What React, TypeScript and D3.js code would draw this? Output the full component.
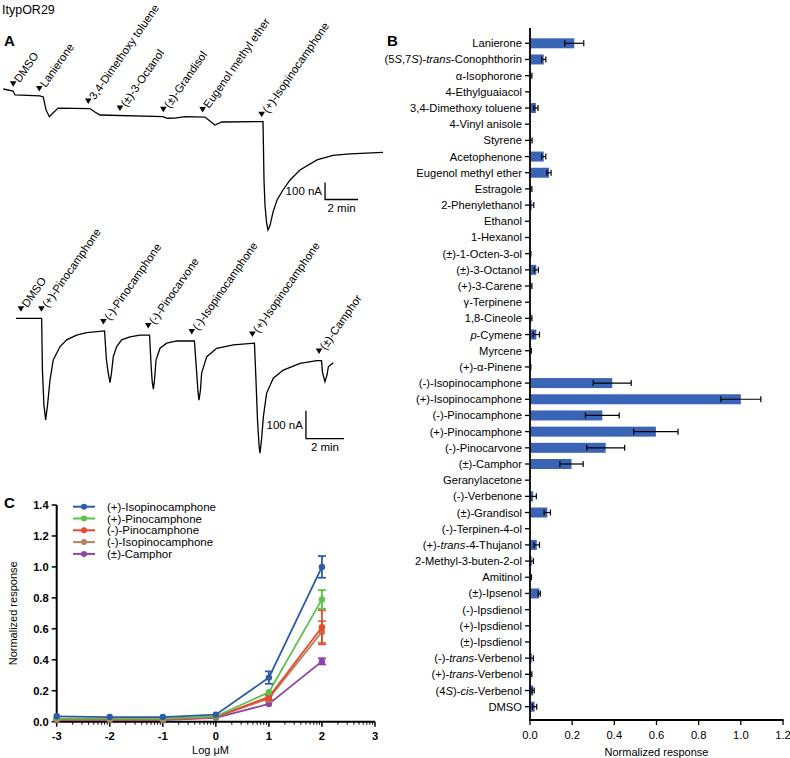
import React from "react";
import * as d3 from "d3";

// ---------- Panel A: TEVC traces (time in min, current in nA) ----------
const topTrace: [number, number][] = [
  [0, 0], [0.59, -12], [0.71, -35], [2.22, -41], [2.42, -47], [2.59, -123], [2.79, -163],
  [3.01, -141], [3.32, -112], [5.25, -115], [5.55, -135], [5.86, -153], [9.68, -162],
  [9.92, -172], [10.4, -171], [11.01, -163], [12.22, -165], [12.52, -188], [12.82, -212],
  [13.25, -194], [15.74, -192], [15.8, -535], [15.86, -682], [15.95, -782], [16.04, -829],
  [16.16, -805], [16.35, -723], [16.59, -653], [16.95, -594], [17.38, -535], [17.98, -476],
  [19.01, -417], [19.98, -391], [21.01, -382], [23.01, -373],
];
const topStimuli = ["DMSO", "Lanierone", "3,4-Dimethoxy toluene", "(\u00b1)-3-Octanol", "(\u00b1)-Grandisol", "Eugenol methyl ether", "(+)-Isopinocamphone"];
const topStimTimes = [0.6, 2.18, 5.15, 7.07, 9.7, 12.08, 15.66];

const bottomTrace: [number, number][] = [
  [0, 0], [1.35, 0], [1.39, -185], [1.47, -310], [1.56, -363], [1.66, -310], [1.79, -220],
  [1.96, -149], [2.32, -101], [2.67, -77], [3.19, -60], [3.72, -51], [4.66, -45],
  [4.76, -149], [4.87, -202], [4.95, -230], [5.03, -192], [5.12, -137], [5.3, -101],
  [5.56, -77], [6.0, -66], [6.53, -60], [7.03, -60], [7.11, -167], [7.17, -227], [7.23, -253],
  [7.29, -220], [7.37, -149], [7.58, -107], [7.93, -89], [8.46, -81], [9.39, -81],
  [9.5, -185], [9.58, -263], [9.63, -292], [9.71, -256], [9.77, -196], [10.04, -137],
  [10.56, -107], [11.44, -95], [12.55, -89], [12.63, -220], [12.71, -363], [12.79, -452],
  [12.84, -482], [12.92, -435], [13.02, -351], [13.19, -268], [13.54, -214], [14.07, -185],
  [14.95, -161], [15.83, -151], [16.08, -151], [16.13, -192], [16.26, -226], [16.37, -202],
  [16.44, -173], [16.7, -159],
];
const bottomStimuli = ["DMSO", "(+)-Pinocamphone", "(-)-Pinocamphone", "(-)-Pinocarvone", "(-)-Isopinocamphone", "(+)-Isopinocamphone", "(\u00b1)-Camphor"];
const bottomStimTimes = [0.26, 1.34, 4.6, 6.96, 9.25, 12.44, 15.95];

// ---------- Panel B: odorant screen ----------
const odorants = [
  "Lanierone", "(5<i>S</i>,7<i>S</i>)-<i>trans</i>-Conophthorin", "\u03b1-Isophorone", "4-Ethylguaiacol",
  "3,4-Dimethoxy toluene", "4-Vinyl anisole", "Styrene", "Acetophenone", "Eugenol methyl ether",
  "Estragole", "2-Phenylethanol", "Ethanol", "1-Hexanol", "(\u00b1)-1-Octen-3-ol", "(\u00b1)-3-Octanol",
  "(+)-3-Carene", "\u03b3-Terpinene", "1,8-Cineole", "<i>p</i>-Cymene", "Myrcene", "(+)-\u03b1-Pinene",
  "(-)-Isopinocamphone", "(+)-Isopinocamphone", "(-)-Pinocamphone", "(+)-Pinocamphone",
  "(-)-Pinocarvone", "(\u00b1)-Camphor", "Geranylacetone", "(-)-Verbenone", "(\u00b1)-Grandisol",
  "(-)-Terpinen-4-ol", "(+)-<i>trans</i>-4-Thujanol", "2-Methyl-3-buten-2-ol", "Amitinol",
  "(\u00b1)-Ipsenol", "(-)-Ipsdienol", "(+)-Ipsdienol", "(\u00b1)-Ipsdienol",
  "(-)-<i>trans</i>-Verbenol", "(+)-<i>trans</i>-Verbenol", "(4<i>S</i>)-<i>cis</i>-Verbenol", "DMSO",
];
const responses = [
  0.21, 0.065, 0.005, 0, 0.028, 0, 0.003, 0.065, 0.09, 0.003, 0.008, 0, 0, 0.002, 0.03,
  0.005, 0, 0.005, 0.03, 0.003, 0.002, 0.39, 1.0, 0.343, 0.597, 0.359, 0.197, 0, 0.015,
  0.082, 0, 0.032, 0.008, 0.003, 0.044, 0, 0, 0, 0.008, 0.005, 0.015, 0.022,
];
const responseErr = [
  0.045, 0.01, 0.004, 0, 0.01, 0, 0.007, 0.01, 0.01, 0.006, 0.01, 0, 0, 0.002, 0.01,
  0.004, 0, 0.004, 0.015, 0.003, 0.002, 0.09, 0.095, 0.08, 0.105, 0.09, 0.055, 0, 0.015,
  0.015, 0, 0.013, 0.008, 0.004, 0.005, 0, 0, 0, 0.008, 0.004, 0.005, 0.01,
];
const bTicks = [0, 0.2, 0.4, 0.6, 0.8, 1.0, 1.2];

// ---------- Panel C: dose response ----------
const logConc = [-3, -2, -1, 0, 1, 2];
const doseSeries = ["(+)-Isopinocamphone", "(+)-Pinocamphone", "(-)-Pinocamphone", "(-)-Isopinocamphone", "(\u00b1)-Camphor"];
const doseColors = ["#2d5ba8", "#5cc24c", "#e9472e", "#b3855b", "#8d46a6"];
const doseMeans = [
  [0.035, 0.03, 0.03, 0.045, 0.285, 1.0],
  [0.02, 0.02, 0.02, 0.035, 0.19, 0.79],
  [0.015, 0.015, 0.015, 0.03, 0.16, 0.61],
  [0.015, 0.015, 0.015, 0.03, 0.15, 0.58],
  [0.01, 0.01, 0.01, 0.025, 0.115, 0.39],
];
const doseErr = [
  [0.005, 0.004, 0.004, 0.006, 0.04, 0.07],
  [0.004, 0.004, 0.004, 0.005, 0.012, 0.06],
  [0.004, 0.004, 0.004, 0.005, 0.02, 0.11],
  [0.004, 0.004, 0.004, 0.005, 0.02, 0.07],
  [0.003, 0.003, 0.003, 0.004, 0.01, 0.02],
];
const cYTicks = [0, 0.2, 0.4, 0.6, 0.8, 1.0, 1.2, 1.4];
const cXTicks = [-3, -2, -1, 0, 1, 2, 3];

const FONT = "'Liberation Sans', Arial, sans-serif";

function RichLabel({ text, x, y }: { text: string; x: number; y: number }) {
  const parts = text.split(/(<i>.*?<\/i>)/).filter(p => p.length);
  return (
    <text x={x} y={y} textAnchor="end" dominantBaseline="central" fontSize={11.2}>
      {parts.map((p, i) =>
        p.startsWith("<i>")
          ? <tspan key={i} fontStyle="italic">{p.slice(3, -4)}</tspan>
          : <tspan key={i}>{p}</tspan>
      )}
    </text>
  );
}

function Trace({ data, stims, times, xs, ys, arrowGap, bar }: any) {
  const line = d3.line<[number, number]>().x(d => xs(d[0])).y(d => ys(d[1]));
  const bis = d3.bisector((d: [number, number]) => d[0]).left;
  const valueAt = (t: number) => {
    const i = Math.max(1, Math.min(data.length - 1, bis(data, t)));
    const a = data[i - 1], b = data[i];
    return a[1] + (b[1] - a[1]) * ((t - a[0]) / (b[0] - a[0]));
  };
  return (
    <g>
      <path d={line(data) || ""} fill="none" stroke="#000" strokeWidth={1.3} />
      {stims.map((s: string, i: number) => {
        const ax = xs(times[i]);
        const ay = ys(valueAt(times[i])) - arrowGap;
        return (
          <g key={s}>
            <path d={`M${ax - 3.3},${ay - 3} L${ax + 3.3},${ay - 3} L${ax},${ay + 2.5} Z`} fill="#000" />
            <text transform={`translate(${ax + 6.5},${ay - 1}) rotate(-55)`} fontSize={11.3}>{s}</text>
          </g>
        );
      })}
      <g>
        <path d={`M${xs(bar.t0)},${ys(bar.i0 + bar.di)} V${ys(bar.i0)} H${xs(bar.t0 + bar.dt)}`} fill="none" stroke="#000" strokeWidth={1.3} />
        <text x={xs(bar.t0) - 3} y={ys(bar.i0 + bar.di / 2)} textAnchor="end" dominantBaseline="central" fontSize={11.5}>100 nA</text>
        <text x={xs(bar.t0 + bar.dt / 2)} y={ys(bar.i0) + 8} textAnchor="middle" dominantBaseline="central" fontSize={11.5}>2 min</text>
      </g>
    </g>
  );
}

export default function App() {
  // Panel A scales
  const topX = d3.scaleLinear().domain([0, 10]).range([3.3, 168.3]);
  const topY = d3.scaleLinear().domain([0, -100]).range([89, 106]);
  const botX = d3.scaleLinear().domain([0, 10]).range([16, 206]);
  const botY = d3.scaleLinear().domain([0, -100]).range([318.3, 346.3]);

  // Panel B scales
  const bx = d3.scaleLinear().domain([0, 1.2]).range([530, 783]);
  const by = d3.scalePoint<string>().domain(odorants).range([43.3, 706.7]);
  const barH = 10;

  // Panel C scales
  const cx = d3.scaleLinear().domain([-3, 3]).range([56.7, 375]);
  const cy = d3.scaleLinear().domain([0, 1.4]).range([721.7, 505]);
  const cLine = d3.line<number>().x((_, i) => cx(logConc[i])).y(d => cy(d));
  const minorX: number[] = [];
  for (let d = -3; d < 3; d++) for (let k = 2; k <= 9; k++) minorX.push(d + Math.log10(k));

  return (
    <div style={{ position: "absolute", left: 0, top: 0 }}>
      <svg width={790} height={758} style={{ display: "block", fontFamily: FONT }}>
        <rect width={790} height={758} fill="#fff" />
        <text x={2} y={14} fontSize={12.5}>ItypOR29</text>
        <text x={4} y={46} fontSize={15} fontWeight="bold">A</text>
        <text x={387} y={46} fontSize={15} fontWeight="bold">B</text>
        <text x={4} y={508} fontSize={15} fontWeight="bold">C</text>

        {/* Panel A */}
        <Trace data={topTrace} stims={topStimuli} times={topStimTimes} xs={topX} ys={topY} arrowGap={7}
          bar={{ t0: 19.5, i0: -650, di: 100, dt: 2 }} />
        <Trace data={bottomTrace} stims={bottomStimuli} times={bottomStimTimes} xs={botX} ys={botY} arrowGap={9}
          bar={{ t0: 15.26, i0: -430, di: 100, dt: 2 }} />

        {/* Panel B */}
        <g>
          {odorants.map((o, i) => {
            const y = by(o) as number;
            const v = responses[i], e = responseErr[i];
            return (
              <g key={o}>
                {v > 0 && <rect x={bx(0)} y={y - barH / 2} width={bx(v) - bx(0)} height={barH} fill="#3a64b6" />}
                {e > 0 && (
                  <g stroke="#000" strokeWidth={1.2}>
                    <line x1={bx(Math.max(0, v - e))} x2={bx(v + e)} y1={y} y2={y} />
                    <line x1={bx(v + e)} x2={bx(v + e)} y1={y - 3} y2={y + 3} />
                    {v - e > 0 && <line x1={bx(v - e)} x2={bx(v - e)} y1={y - 3} y2={y + 3} />}
                  </g>
                )}
                <line x1={bx(0) - 5} x2={bx(0)} y1={y} y2={y} stroke="#000" strokeWidth={1.3} />
                <RichLabel text={o} x={bx(0) - 8} y={y} />
              </g>
            );
          })}
          <line x1={bx(0)} x2={bx(0)} y1={28} y2={720} stroke="#000" strokeWidth={1.8} />
          <line x1={bx(0) - 0.9} x2={bx(1.2) + 0.6} y1={720} y2={720} stroke="#000" strokeWidth={1.8} />
          {bTicks.map(t => (
            <g key={t}>
              <line x1={bx(t)} x2={bx(t)} y1={720} y2={725} stroke="#000" strokeWidth={1.3} />
              <text x={bx(t)} y={735} textAnchor="middle" dominantBaseline="central" fontSize={11.2}>{t.toFixed(1)}</text>
            </g>
          ))}
          <text x={(bx(0) + bx(1.2)) / 2} y={752} textAnchor="middle" dominantBaseline="central" fontSize={11}>Normalized response</text>
        </g>

        {/* Panel C */}
        <g>
          <line x1={cx(-3)} x2={cx(-3)} y1={cy(1.4)} y2={cy(0)} stroke="#000" strokeWidth={2} />
          <line x1={cx(-3) - 1} x2={cx(3)} y1={cy(0)} y2={cy(0)} stroke="#000" strokeWidth={2} />
          {cYTicks.map(t => (
            <g key={t}>
              <line x1={cx(-3) - 5} x2={cx(-3)} y1={cy(t)} y2={cy(t)} stroke="#000" strokeWidth={1.5} />
              <text x={cx(-3) - 8} y={cy(t)} textAnchor="end" dominantBaseline="central" fontSize={11.2} fontWeight="bold">{t.toFixed(1)}</text>
            </g>
          ))}
          {cXTicks.map(t => (
            <g key={t}>
              <line x1={cx(t)} x2={cx(t)} y1={cy(0)} y2={cy(0) + 5} stroke="#000" strokeWidth={1.5} />
              <text x={cx(t)} y={cy(0) + 14} textAnchor="middle" dominantBaseline="central" fontSize={11.2} fontWeight="bold">{t}</text>
            </g>
          ))}
          {minorX.map((t, i) => (
            <line key={i} x1={cx(t)} x2={cx(t)} y1={cy(0)} y2={cy(0) + 3} stroke="#000" strokeWidth={1} />
          ))}
          <text transform={`translate(13,${cy(0.7)}) rotate(-90)`} textAnchor="middle" dominantBaseline="central" fontSize={11}>Normalized response</text>
          <text x={cx(-0.1)} y={750} textAnchor="middle" dominantBaseline="central" fontSize={11}>Log {"\u03bc"}M</text>

          {doseSeries.map((_, si) => doseSeries.length - 1 - si).map(si => {
            const col = doseColors[si];
            return (
              <g key={si}>
                <path d={cLine(doseMeans[si]) || ""} fill="none" stroke={col} strokeWidth={1.8} />
                {doseMeans[si].map((m, i) => {
                  const x = cx(logConc[i]);
                  const e = doseErr[si][i];
                  return (
                    <g key={i}>
                      {e > 0.015 && (
                        <g stroke={col} strokeWidth={1.8}>
                          <line x1={x} x2={x} y1={cy(m - e)} y2={cy(m + e)} />
                          <line x1={x - 4} x2={x + 4} y1={cy(m - e)} y2={cy(m - e)} />
                          <line x1={x - 4} x2={x + 4} y1={cy(m + e)} y2={cy(m + e)} />
                        </g>
                      )}
                      <circle cx={x} cy={cy(m)} r={3.2} fill={col} />
                    </g>
                  );
                })}
              </g>
            );
          })}

          {doseSeries.map((s, i) => {
            const y = 506.7 + i * 11.8;
            return (
              <g key={s}>
                <line x1={73} x2={95} y1={y} y2={y} stroke={doseColors[i]} strokeWidth={2} />
                <circle cx={84} cy={y} r={3} fill={doseColors[i]} />
                <text x={107} y={y} dominantBaseline="central" fontSize={11.5}>{s}</text>
              </g>
            );
          })}
        </g>
      </svg>
    </div>
  );
}
